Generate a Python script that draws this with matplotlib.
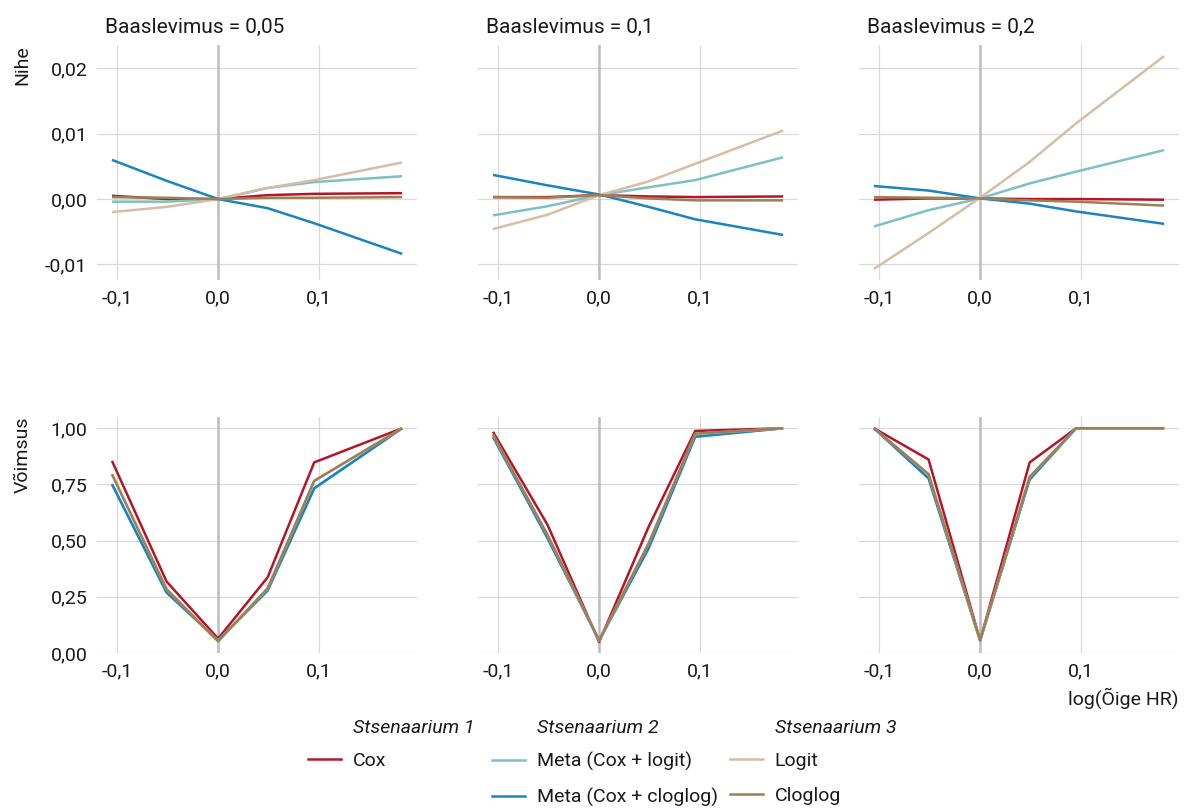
import matplotlib.pyplot as plt
from matplotlib.lines import Line2D

plt.rcParams['font.family'] = ['Roboto', 'DejaVu Sans']

# log(true HR) values
log_hr = [-0.105, -0.051, 0.0, 0.049, 0.095, 0.182]
prevalence = ['0,05', '0,1', '0,2']

x_ticks = [-0.1, 0.0, 0.1]
x_ticklabels = ['-0,1', '0,0', '0,1']
bias_ticks = [-0.01, 0.0, 0.01, 0.02]
bias_ticklabels = ['-0,01', '0,00', '0,01', '0,02']
power_ticks = [0.0, 0.25, 0.5, 0.75, 1.0]
power_ticklabels = ['0,00', '0,25', '0,50', '0,75', '1,00']

methods = ['Cox', 'Meta (Cox + logit)', 'Meta (Cox + cloglog)', 'Logit', 'Cloglog']
colors = ['#B5152B', '#7FBFC6', '#1B84BE', '#D6BDA3', '#9C7F55']

# bias (Nihe), one row per prevalence
bias_cox = [[0.0005, 0.0000, 0.0000, 0.0006, 0.0008, 0.0009],
            [0.0003, 0.0003, 0.0006, 0.0004, 0.0003, 0.0004],
            [-0.0001, 0.0001, 0.0001, 0.0000, 0.0000, -0.0001]]
bias_meta_logit = [[-0.0004, -0.0004, 0.0000, 0.0017, 0.0026, 0.0035],
                   [-0.0025, -0.0011, 0.0006, 0.0018, 0.0029, 0.0064],
                   [-0.0042, -0.0017, 0.0001, 0.0024, 0.0042, 0.0075]]
bias_meta_cloglog = [[0.0060, 0.0028, 0.0000, -0.0014, -0.0037, -0.0084],
                     [0.0037, 0.0021, 0.0007, -0.0012, -0.0031, -0.0055],
                     [0.0020, 0.0013, 0.0001, -0.0007, -0.0019, -0.0038]]
bias_logit = [[-0.0020, -0.0012, 0.0000, 0.0017, 0.0029, 0.0056],
              [-0.0046, -0.0024, 0.0006, 0.0027, 0.0054, 0.0105],
              [-0.0107, -0.0052, 0.0002, 0.0057, 0.0116, 0.0219]]
bias_cloglog = [[0.0003, 0.0002, 0.0000, 0.0002, 0.0002, 0.0003],
                [0.0003, 0.0002, 0.0006, 0.0001, -0.0002, -0.0002],
                [0.0003, 0.0002, 0.0001, -0.0002, -0.0004, -0.0010]]

# power (Võimsus)
power_cox = [[0.855, 0.318, 0.064, 0.337, 0.848, 1.0],
             [0.984, 0.570, 0.049, 0.562, 0.988, 1.0],
             [1.0, 0.861, 0.056, 0.848, 1.0, 1.0]]
power_meta_logit = [[0.752, 0.270, 0.056, 0.279, 0.734, 1.0],
                    [0.963, 0.512, 0.055, 0.468, 0.963, 1.0],
                    [1.0, 0.778, 0.055, 0.773, 1.0, 1.0]]
power_meta_cloglog = [[0.751, 0.269, 0.056, 0.278, 0.732, 1.0],
                      [0.962, 0.510, 0.056, 0.466, 0.962, 1.0],
                      [1.0, 0.777, 0.056, 0.772, 1.0, 1.0]]
power_logit = [[0.795, 0.283, 0.052, 0.287, 0.765, 1.0],
               [0.971, 0.524, 0.056, 0.487, 0.975, 1.0],
               [1.0, 0.795, 0.056, 0.783, 1.0, 1.0]]
power_cloglog = [[0.796, 0.284, 0.052, 0.288, 0.766, 1.0],
                 [0.972, 0.525, 0.056, 0.488, 0.976, 1.0],
                 [1.0, 0.796, 0.056, 0.784, 1.0, 1.0]]

bias_all = [bias_cox, bias_meta_logit, bias_meta_cloglog, bias_logit, bias_cloglog]
power_all = [power_cox, power_meta_logit, power_meta_cloglog, power_logit, power_cloglog]

W, H = 1189, 809
fig = plt.figure(figsize=(W / 100, H / 100), dpi=100)

lefts = [97, 478, 859]
pw = 320
rows = [(45, 280), (417, 653)]

grid_col = '#D9D9D9'
txt_col = '#1A1A1A'
xlim = (-0.1198, 0.1967)

for r, (top, bot) in enumerate(rows):
    for c in range(3):
        ax = fig.add_axes([lefts[c] / W, 1 - bot / H, pw / W, (bot - top) / H])
        for s in ax.spines.values():
            s.set_visible(False)
        ax.set_axisbelow(True)
        ax.grid(True, color=grid_col, lw=0.9)
        ax.tick_params(length=0, labelsize=14, colors=txt_col, pad=7)
        ax.axvline(0, color='#BDBDBD', lw=1.8, zorder=1)
        series = bias_all if r == 0 else power_all
        for k in range(5):
            ax.plot(log_hr, series[k][c], color=colors[k], lw=1.8, zorder=3,
                    solid_capstyle='butt')
        ax.set_xlim(xlim)
        ax.set_xticks(x_ticks)
        ax.set_xticklabels(x_ticklabels)
        if r == 0:
            ax.set_ylim(-0.0124, 0.0236)
            ax.set_yticks(bias_ticks)
            ax.set_yticklabels(bias_ticklabels if c == 0 else [])
            ax.text(0.025, 1.051, 'Baaslevimus = ' + prevalence[c], transform=ax.transAxes,
                    fontsize=15, color=txt_col, ha='left', va='baseline')
            if c == 0:
                ax.set_ylabel('Nihe', loc='top', fontsize=14, color=txt_col)
        else:
            ax.set_ylim(0, 1.05)
            ax.set_yticks(power_ticks)
            ax.set_yticklabels(power_ticklabels if c == 0 else [])
            if c == 0:
                ax.set_ylabel('Võimsus', loc='top', fontsize=14, color=txt_col)
            if c == 2:
                ax.set_xlabel('log(Õige HR)', loc='right', fontsize=14, color=txt_col, labelpad=5)
        if c == 0:
            ax.yaxis.set_label_coords(-0.205, 1)

# legend in three groups
groups = [([0], 308, 'Stsenaarium 1'), ([1, 2], 492, 'Stsenaarium 2'), ([3, 4], 730, 'Stsenaarium 3')]
for idx, xpx, title in groups:
    handles = [Line2D([], [], color=colors[k], lw=1.8) for k in idx]
    fig.legend(handles, [methods[k] for k in idx], loc='upper left',
               bbox_to_anchor=(xpx / W, 1 - 752 / H), frameon=False, fontsize=14,
               handlelength=1.7, handletextpad=0.6, labelspacing=0.86,
               borderpad=0, borderaxespad=0, labelcolor=txt_col)
    fig.text((xpx + 45) / W, 1 - 733 / H, title, fontsize=14, style='italic',
             color=txt_col, ha='left', va='baseline')

fig.savefig('out.png', dpi=100)
